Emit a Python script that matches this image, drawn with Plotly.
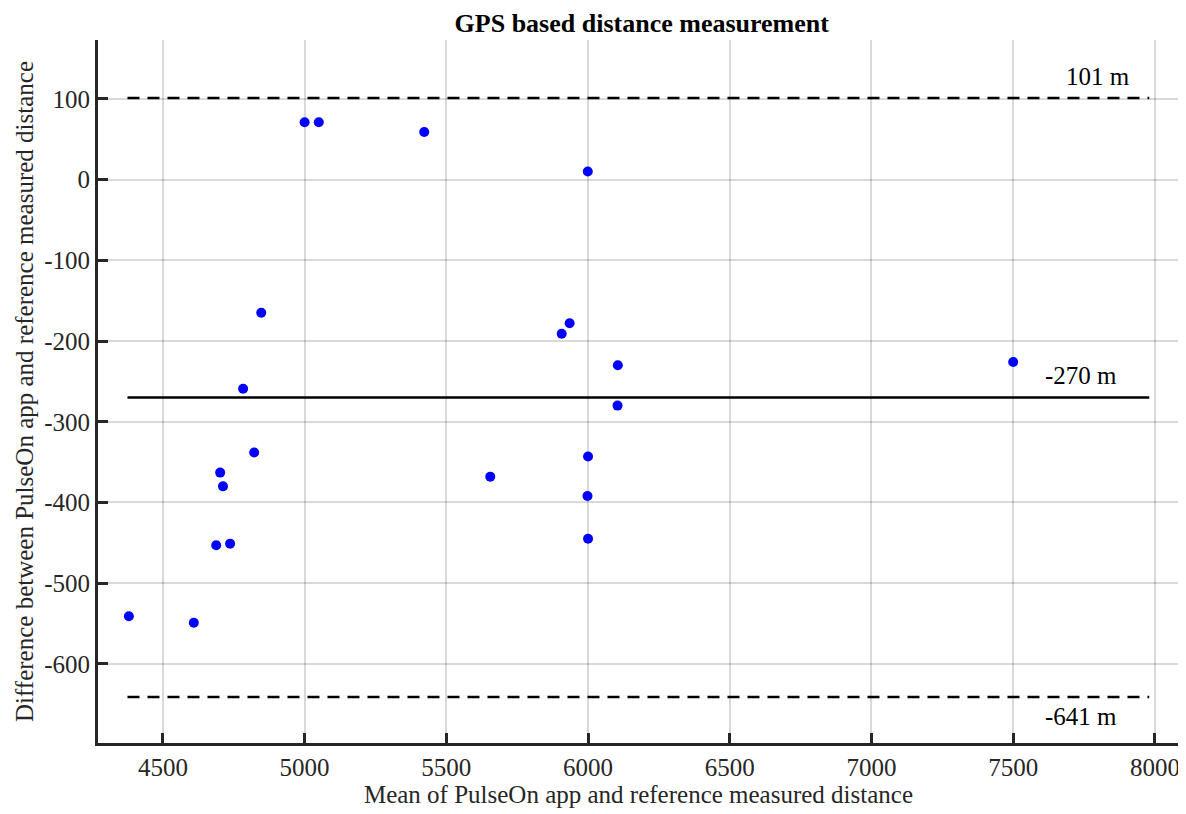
import plotly.graph_objects as go

# Data
mean_distance = [4380, 4609, 4688, 4737, 4702, 4712, 4822, 4783, 4847,
                 5000, 5050, 5422, 5999, 5935, 5907, 6105, 6104,
                 6000, 5655, 5998, 6000, 7500]
difference = [-541, -549, -453, -451, -363, -380, -338, -259, -165,
              71, 71, 59, 10, -178, -191, -230, -280,
              -343, -368, -392, -445, -226]

upper_loa = 101
mean_diff = -270
lower_loa = -641
line_x = [4375, 7980]
x_ticks = [4500, 5000, 5500, 6000, 6500, 7000, 7500, 8000]
y_ticks = [100, 0, -100, -200, -300, -400, -500, -600]
y_tick_text = ["100", "0", "-100", "-200", "-300", "-400", "-500", "-600"]

FONT = "Liberation Serif, Times New Roman, serif"
AX = "#262626"

fig = go.Figure()
fig.add_trace(go.Scatter(x=line_x, y=[upper_loa] * 2, mode="lines",
                         line=dict(color="black", width=2.5, dash="12px,8px"),
                         showlegend=False, hoverinfo="skip"))
fig.add_trace(go.Scatter(x=line_x, y=[mean_diff] * 2, mode="lines",
                         line=dict(color="black", width=2.5),
                         showlegend=False, hoverinfo="skip"))
fig.add_trace(go.Scatter(x=line_x, y=[lower_loa] * 2, mode="lines",
                         line=dict(color="black", width=2.5, dash="12px,8px"),
                         showlegend=False, hoverinfo="skip"))
fig.add_trace(go.Scatter(x=mean_distance, y=difference, mode="markers",
                         marker=dict(color="#0000FF", size=10),
                         showlegend=False))

for val, xpos, yshift in [(upper_loa, 7800, 22), (mean_diff, 7740, 22), (lower_loa, 7740, -20)]:
    fig.add_annotation(x=xpos, y=val, text=f"{val} m", showarrow=False,
                       xanchor="center", yanchor="middle", yshift=yshift,
                       font=dict(family=FONT, size=25, color="black"))

axis_common = dict(
    showline=True, linecolor=AX, linewidth=3,
    ticks="inside", ticklen=10, tickwidth=3, tickcolor=AX,
    showgrid=True, gridcolor="rgba(0,0,0,0.15)", gridwidth=2,
    zeroline=False, mirror=False, automargin=False,
    tickfont=dict(family=FONT, size=25, color=AX),
)

fig.update_xaxes(range=[4271, 8085], tickvals=x_ticks,
                 title=dict(text="Mean of PulseOn app and reference measured distance",
                            font=dict(family=FONT, size=25, color=AX), standoff=2),
                 **axis_common)
fig.update_yaxes(range=[-698, 173], tickvals=y_ticks, ticktext=y_tick_text,
                 title=dict(text="Difference between PulseOn app and reference measured distance",
                            font=dict(family=FONT, size=25, color=AX), standoff=4),
                 **axis_common)

fig.update_layout(
    width=1178, height=806,
    margin=dict(l=90, r=7, t=32, b=71),
    plot_bgcolor="white", paper_bgcolor="white",
    title=dict(text="<b>GPS based distance measurement</b>", x=0.538, xanchor="center",
               y=0.982, yanchor="middle",
               font=dict(family=FONT, size=26, color="black")),
)

fig.write_html("out.html")
